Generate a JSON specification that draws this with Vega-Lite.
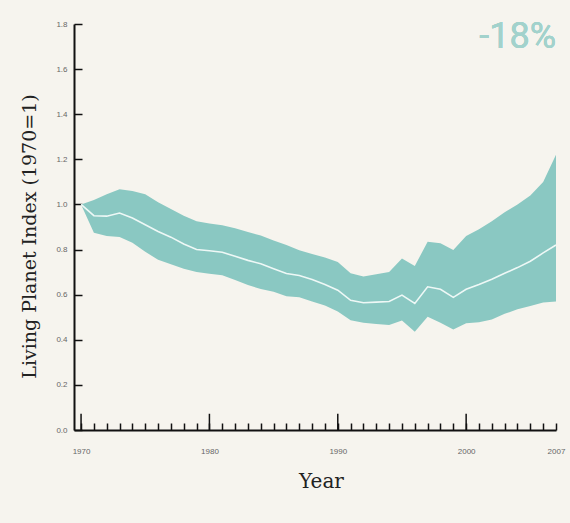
{
  "$schema": "https://vega.github.io/schema/vega-lite/v6.json",
  "autosize": "none",
  "width": 482,
  "height": 406,
  "padding": {"left": 74, "top": 24, "right": 14, "bottom": 93},
  "background": "#f6f4ee",
  "config": {"view": {"stroke": null}},
  "datasets": {
    "index": [
      {"year": 1970, "low": 1.0, "mid": 1.0, "high": 1.0},
      {"year": 1971, "low": 0.875, "mid": 0.95, "high": 1.02},
      {"year": 1972, "low": 0.86, "mid": 0.948, "high": 1.045},
      {"year": 1973, "low": 0.856, "mid": 0.962, "high": 1.067},
      {"year": 1974, "low": 0.83, "mid": 0.94, "high": 1.06},
      {"year": 1975, "low": 0.79, "mid": 0.91, "high": 1.045},
      {"year": 1976, "low": 0.755, "mid": 0.88, "high": 1.01},
      {"year": 1977, "low": 0.735, "mid": 0.855, "high": 0.98},
      {"year": 1978, "low": 0.715, "mid": 0.825, "high": 0.95},
      {"year": 1979, "low": 0.7, "mid": 0.8, "high": 0.925},
      {"year": 1980, "low": 0.693, "mid": 0.795, "high": 0.915},
      {"year": 1981, "low": 0.686, "mid": 0.788, "high": 0.908},
      {"year": 1982, "low": 0.665, "mid": 0.77, "high": 0.895},
      {"year": 1983, "low": 0.643, "mid": 0.752, "high": 0.878},
      {"year": 1984, "low": 0.625, "mid": 0.737, "high": 0.862},
      {"year": 1985, "low": 0.613, "mid": 0.715, "high": 0.84},
      {"year": 1986, "low": 0.593, "mid": 0.694, "high": 0.82},
      {"year": 1987, "low": 0.588, "mid": 0.685, "high": 0.797},
      {"year": 1988, "low": 0.57, "mid": 0.667, "high": 0.78},
      {"year": 1989, "low": 0.552, "mid": 0.645, "high": 0.765},
      {"year": 1990, "low": 0.525, "mid": 0.62, "high": 0.745},
      {"year": 1991, "low": 0.487, "mid": 0.575, "high": 0.695},
      {"year": 1992, "low": 0.476, "mid": 0.564, "high": 0.68},
      {"year": 1993, "low": 0.47, "mid": 0.567, "high": 0.69},
      {"year": 1994, "low": 0.465, "mid": 0.57, "high": 0.7},
      {"year": 1995, "low": 0.485, "mid": 0.598, "high": 0.76},
      {"year": 1996, "low": 0.436, "mid": 0.561, "high": 0.727},
      {"year": 1997, "low": 0.502, "mid": 0.635, "high": 0.835},
      {"year": 1998, "low": 0.476, "mid": 0.624, "high": 0.828},
      {"year": 1999, "low": 0.446, "mid": 0.588, "high": 0.798},
      {"year": 2000, "low": 0.473, "mid": 0.624, "high": 0.86},
      {"year": 2001, "low": 0.478, "mid": 0.645, "high": 0.89},
      {"year": 2002, "low": 0.49, "mid": 0.668, "high": 0.925},
      {"year": 2003, "low": 0.515, "mid": 0.695, "high": 0.965},
      {"year": 2004, "low": 0.535, "mid": 0.72, "high": 1.0},
      {"year": 2005, "low": 0.55, "mid": 0.748, "high": 1.04},
      {"year": 2006, "low": 0.565, "mid": 0.785, "high": 1.1},
      {"year": 2007, "low": 0.57, "mid": 0.82, "high": 1.22}
    ],
    "decades": [
      {"year": 1970},
      {"year": 1980},
      {"year": 1990},
      {"year": 2000}
    ]
  },
  "layer": [
    {
      "data": {"name": "index"},
      "mark": {"type": "area", "color": "#8ac8c2", "opacity": 1},
      "encoding": {
        "x": {
          "field": "year",
          "type": "quantitative",
          "scale": {"domain": [1969.45, 2007], "nice": false, "zero": false},
          "axis": {
            "title": "Year",
            "titleFont": "DejaVu Serif",
            "titleFontSize": 20,
            "titleFontWeight": "normal",
            "titleColor": "#222222",
            "titleX": 247,
            "titleY": 57,
            "titleBaseline": "alphabetic",
            "tickCount": 40,
            "values": [1970, 1971, 1972, 1973, 1974, 1975, 1976, 1977, 1978, 1979, 1980, 1981, 1982, 1983, 1984, 1985, 1986, 1987, 1988, 1989, 1990, 1991, 1992, 1993, 1994, 1995, 1996, 1997, 1998, 1999, 2000, 2001, 2002, 2003, 2004, 2005, 2006, 2007],
            "labelExpr": "(datum.value % 10 === 0 || datum.value === 2007) ? format(datum.value, 'd') : ''",
            "labelFont": "Liberation Sans",
            "labelFontSize": 8,
            "labelColor": "#666666",
            "labelPadding": 24,
            "labelFlush": false,
            "labelOverlap": false,
            "tickSize": -7,
            "tickColor": "#111111",
            "tickWidth": 1.5,
            "domainColor": "#111111",
            "domainWidth": 2,
            "grid": false
          }
        },
        "y": {
          "field": "high",
          "type": "quantitative",
          "scale": {"domain": [0, 1.8], "nice": false},
          "axis": {
            "title": "Living Planet Index (1970=1)",
            "titleFont": "DejaVu Serif",
            "titleFontSize": 19,
            "titleFontWeight": "normal",
            "titleColor": "#222222",
            "titleAngle": -90,
            "titleAlign": "center",
            "titleBaseline": "middle",
            "titleX": -45,
            "titleY": 212,
            "values": [0, 0.2, 0.4, 0.6, 0.8, 1.0, 1.2, 1.4, 1.6, 1.8],
            "format": ".1f",
            "labelFont": "Liberation Sans",
            "labelFontSize": 8,
            "labelColor": "#666666",
            "labelPadding": 15,
            "tickSize": -8,
            "tickColor": "#111111",
            "tickWidth": 1.5,
            "domainColor": "#111111",
            "domainWidth": 2,
            "grid": false
          }
        },
        "y2": {"field": "low"}
      }
    },
    {
      "data": {"name": "index"},
      "mark": {"type": "line", "color": "#eef8f6", "strokeWidth": 1.6},
      "encoding": {
        "x": {"field": "year", "type": "quantitative"},
        "y": {"field": "mid", "type": "quantitative"}
      }
    },
    {
      "data": {"name": "decades"},
      "mark": {"type": "rule", "color": "#111111", "strokeWidth": 1.5},
      "encoding": {
        "x": {"field": "year", "type": "quantitative"},
        "y": {"datum": 0, "type": "quantitative"},
        "y2": {"datum": 0.072}
      }
    },
    {
      "data": {"name": "decades"},
      "mark": {
        "type": "text",
        "text": "-18%",
        "align": "right",
        "baseline": "top",
        "font": "Roboto",
        "fontWeight": "normal",
        "fontSize": 36,
        "color": "#a2d2cc",
        "dy": -4
      },
      "encoding": {
        "x": {"datum": 2007, "type": "quantitative"},
        "y": {"datum": 1.8, "type": "quantitative"}
      }
    }
  ]
}
